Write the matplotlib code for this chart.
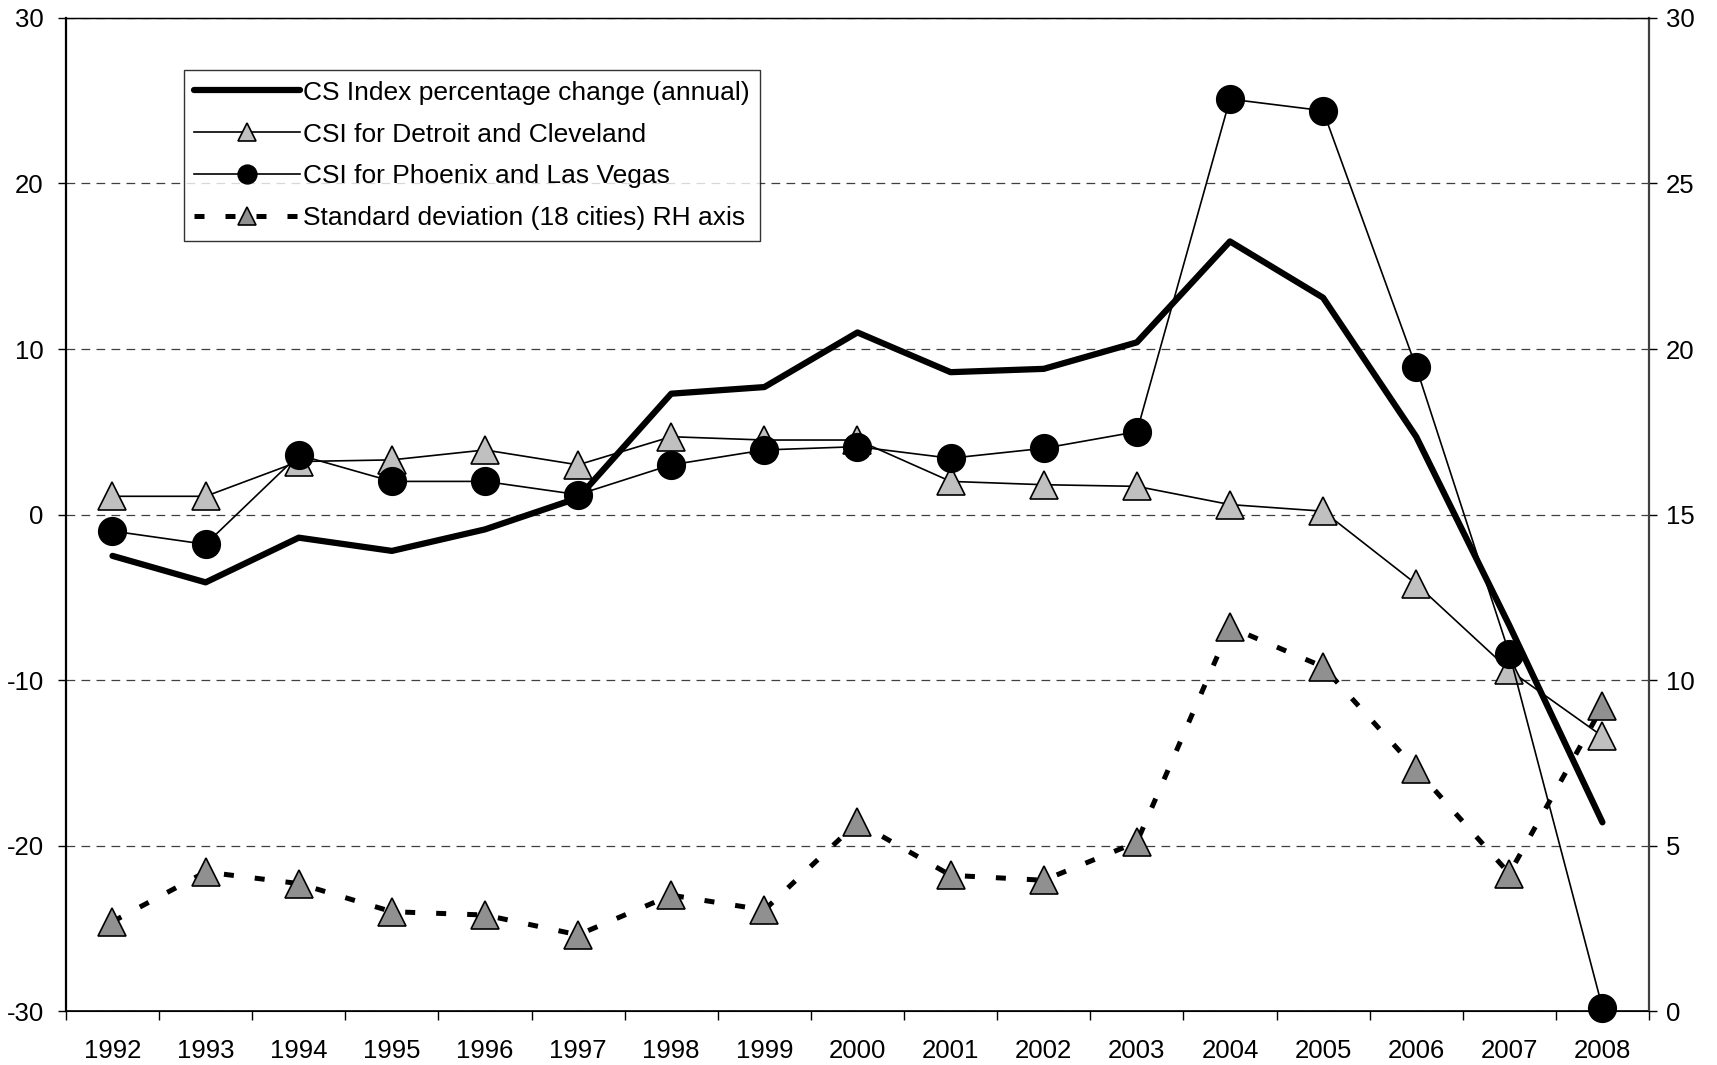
import numpy as np
import matplotlib.pyplot as plt

years = np.arange(1992, 2009)
cs_index = [-2.5, -4.1, -1.4, -2.2, -0.9, 1.0, 7.3, 7.7, 11.0, 8.6, 8.8, 10.4,
            16.5, 13.1, 4.7, -6.7, -18.6]
detroit = [1.1, 1.1, 3.2, 3.3, 3.9, 3.0, 4.7, 4.5, 4.5, 2.0, 1.8, 1.7,
           0.6, 0.2, -4.2, -9.4, -13.4]
phoenix = [-1.0, -1.8, 3.6, 2.0, 2.0, 1.2, 3.0, 3.9, 4.1, 3.4, 4.0, 5.0,
           25.1, 24.4, 8.9, -8.4, -29.8]
std_dev = [2.7, 4.2, 3.85, 3.0, 2.9, 2.3, 3.5, 3.05, 5.7, 4.1, 3.95, 5.1,
           11.6, 10.4, 7.3, 4.15, 9.2]

plt.rcParams["font.family"] = ["Liberation Sans", "DejaVu Sans"]
plt.rcParams["axes.unicode_minus"] = False

fig = plt.figure(figsize=(17.17, 10.65), dpi=100)
ax = fig.add_axes([0.0384, 0.0507, 0.922, 0.9324])
ax2 = ax.twinx()

l1, = ax.plot(years, cs_index, color="black", lw=4.5, solid_capstyle="round",
              clip_on=False, label="CS Index percentage change (annual)")
l2, = ax.plot(years, detroit, color="black", lw=1.2, marker="^", ms=20,
              mfc="#c0c0c0", mec="black", mew=1.2, clip_on=False,
              label="CSI for Detroit and Cleveland")
l3, = ax.plot(years, phoenix, color="black", lw=1.2, marker="o", ms=20,
              mfc="black", mec="black", clip_on=False,
              label="CSI for Phoenix and Las Vegas")
l4, = ax2.plot(years, std_dev, color="black", lw=3.6, ls=(0, (2, 4.2)),
               dash_capstyle="butt", marker="^", ms=20, mfc="#909090",
               mec="black", mew=1.2, clip_on=False,
               label="Standard deviation (18 cities) RH axis")

ax.set_xlim(1991.5, 2008.5)
ax.set_ylim(-30, 30)
ax2.set_ylim(0, 30)
ax.set_yticks(np.arange(-30, 31, 10))
ax2.set_yticks(np.arange(0, 31, 5))
ax.set_xticks(years)
ax.set_xticks(np.arange(1991.5, 2009, 1), minor=True)
ax.tick_params(axis="x", which="major", length=0, labelsize=18.5, pad=20)
ax.tick_params(axis="x", which="minor", length=6.5, width=1)
ax.tick_params(axis="y", length=6, width=1, labelsize=18.5, pad=10)
ax2.tick_params(axis="y", length=6, width=1, labelsize=18.5, pad=6)

ax.grid(axis="y", ls=(0, (7, 5)), color="#404040", lw=0.9)
ax.set_axisbelow(True)
ax2.spines["top"].set_linewidth(1)
ax.spines["right"].set_visible(False)
ax2.spines["left"].set_visible(False)
ax2.spines["right"].set_color("#404040")
ax.spines["left"].set_linewidth(1.6)
ax2.spines["right"].set_linewidth(1.6)
ax.spines["bottom"].set_linewidth(1.2)

leg = ax2.legend(handles=[l1, l2, l3, l4], loc="upper left",
                 bbox_to_anchor=(0.0745, 0.9476), borderaxespad=0,
                 fontsize=19, frameon=True, fancybox=False,
                 edgecolor="black", handlelength=4.0, handletextpad=0.1,
                 labelspacing=0.68, borderpad=0.4, markerscale=0.68)
leg.get_frame().set_linewidth(1)

fig.savefig("out.png", dpi=100)
